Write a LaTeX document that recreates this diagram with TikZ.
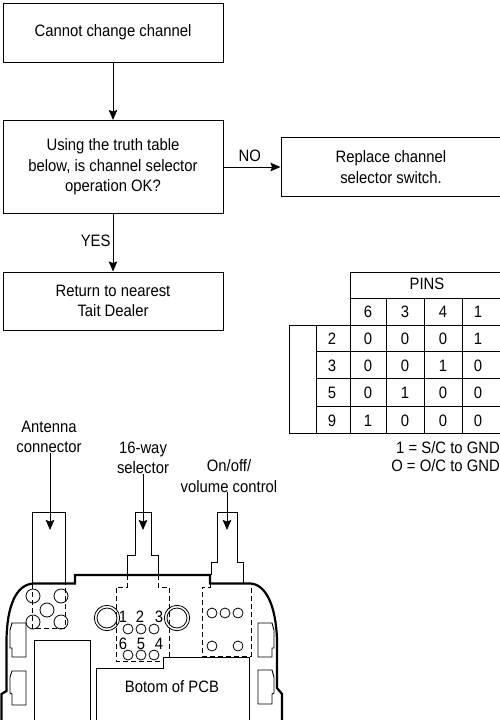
\documentclass[tikz,border=0pt]{standalone}
\usepackage{fontspec}
\setmainfont[FakeStretch=0.9]{Liberation Sans}
\usetikzlibrary{positioning,arrows.meta}
\tikzset{
  flowbox/.style={draw,line width=1pt,inner sep=0pt,align=center,font=\fontsize{16.5}{20.7}\selectfont},
  flowarrow/.style={line width=1pt,-{Stealth[length=10pt,width=8.5pt,inset=1.5pt]}},
  lbl/.style={font=\fontsize{16.5}{20.3}\selectfont,inner sep=0pt,align=center},
  pinlbl/.style={font=\fontsize{16.5}{20}\selectfont,inner sep=0pt},
  hole/.style={line width=0.8pt},
  hidden/.style={line width=0.9pt,dash pattern=on 5pt off 3pt},
  thin line/.style={line width=0.9pt},
}
\begin{document}
\begin{tikzpicture}[x=1pt,y=-1pt]
\useasboundingbox (0,0) rectangle (500,720);
% flow chart
\node[flowbox,minimum width=220pt,minimum height=59pt] (start) at (113,32.5) {Cannot change channel};
\node[flowbox,minimum width=220pt,minimum height=93pt] (check) at (113,167) {Using the truth table\\below, is channel selector\\operation OK?};
\node[flowbox,minimum width=220pt,minimum height=59pt] (replace) at (391,167) {Replace channel\\selector switch.};
\node[flowbox,minimum width=220pt,minimum height=58pt] (dealer) at (113,301) {Return to nearest\\Tait Dealer};
\draw[flowarrow] (start) -- (check);
\draw[flowarrow] (check) -- (replace) node[lbl,pos=0.46,above=5pt] (no) {NO};
\draw[flowarrow] (check) -- (dealer) node[lbl,pos=0.47,left=2pt] (yes) {YES};
% truth table
\draw[thin line] (350,272) rectangle (500,325);
\draw[thin line] (350,298) -- (500,298);
\draw[thin line] (289,325) rectangle (500,433);
\foreach \x in {316,350,386,424,462} \draw[thin line] (\x,325) -- (\x,433);
\foreach \x in {386,424,462} \draw[thin line] (\x,298) -- (\x,325);
\foreach \y in {351,378,406} \draw[thin line] (316,\y) -- (500,\y);
\node[lbl] (pins) at (427,284) {PINS};
\foreach \x/\t in {368/6,405/3,443/4,478/1} \node[lbl] (head\t) at (\x,312) {\t};
\foreach \y/\r/\a/\b/\c/\d in {339/2/0/0/0/1,366/3/0/0/1/0,393/5/0/1/0/0,421/9/1/0/0/0}{
  \node[lbl] (row\r) at (332,\y) {\r};
  \node[lbl] (cella\r) at (368,\y) {\a};
  \node[lbl] (cellb\r) at (405,\y) {\b};
  \node[lbl] (cellc\r) at (443,\y) {\c};
  \node[lbl] (celld\r) at (478,\y) {\d};
}
\node[lbl,anchor=east] (keya) at (500,448) {1 = S/C to GND};
\node[lbl,anchor=east] (keyb) at (500,466) {O = O/C to GND};
% labels over the board
\node[lbl] (antenna) at (49,437) {Antenna\\connector};
\node[lbl] (selector) at (143,458) {16-way\\selector};
\node[lbl] (volume) at (229,476) {On/off/\\volume control};
\coordinate (antennatip) at (50,530);
\coordinate (selectortip) at (143,530);
\coordinate (volumetip) at (227,530);
\draw[flowarrow] (antenna.south -| antennatip) -- (antennatip);
\draw[flowarrow] (selector.south -| selectortip) -- (selectortip);
\draw[flowarrow] (volume.south -| volumetip) -- (volumetip);
% connectors on the top edge
\draw[thin line] (32,584) -- (32,512) -- (65,512) -- (65,584);
\draw[thin line] (127,575) -- (127,555) -- (135,555) -- (135,512) -- (151,512) -- (151,555) -- (158,555) -- (158,575);
\draw[thin line] (211,575) -- (211,562) -- (217,562) -- (217,512) -- (237,512) -- (237,562) -- (243,562) -- (243,584);
% board outline
\draw[line width=2.2pt] (1.5,720) -- (1.5,694) -- (6.5,691) -- (6.5,640) .. controls (7,606) and (16,584) .. (34,583.5) -- (75,583.5) -- (75,575) -- (210,575) -- (210,583.5) -- (250,583.5) .. controls (266,584) and (276,606) .. (277,640) -- (277,688) -- (282,694) -- (282,720);
% dashed areas
\draw[hidden] (32,584) -- (32,628) -- (65,628) -- (65,584);
\draw[hidden] (127,575) -- (127,587) -- (116,587) -- (116,661) -- (163,661);
\draw[hidden] (158,575) -- (158,587) -- (169,587) -- (169,657);
\draw[hidden] (210,584) -- (210,587) -- (202,587) -- (202,656) -- (251,656) -- (251,584);
% holes
\foreach \x/\y in {33/596,61/596,47/610,33/622,61/622} \draw[hole] (\x,\y) circle (7pt);
\foreach \x in {128,141,154} \draw[hole] (\x,629) circle (5pt);
\foreach \x in {128,141,154} \draw[hole] (\x,655) circle (5pt);
\foreach \x in {212,225,238} \draw[hole] (\x,613) circle (5pt);
\foreach \x in {212,238} \draw[hole] (\x,646) circle (5pt);
\draw[hole] (107,618) circle (12.7pt) (107,618) circle (10pt);
\draw[hole] (177,618) circle (12.7pt) (177,618) circle (10pt);
\foreach \x/\y/\t in {123/617/1,140/617/2,159/617/3,123/644/6,141/644/5,159/644/4} \node[pinlbl] (pin\t) at (\x,\y) {\t};
% side clips
\draw[thin line] (26,623) -- (12,623) -- (10,630) -- (10,648) -- (12,648) -- (12,657) -- (26,657) -- cycle;
\draw[thin line] (26,671) -- (12,671) -- (10,677) -- (10,693) -- (12,694) -- (12,705) -- (26,705) -- cycle;
\draw[thin line] (258,623) -- (272,623) -- (274,630) -- (274,648) -- (272,648) -- (272,657) -- (258,657) -- cycle;
\draw[thin line] (258,670) -- (272,670) -- (274,677) -- (274,693) -- (272,694) -- (272,704) -- (258,704) -- cycle;
% inner board cut-outs
\draw[thin line] (34,720) -- (34,640) -- (90,640) -- (90,720);
\draw[thin line] (96,720) -- (96,668) -- (163,668) -- (163,657) -- (249,657) -- (249,720);
\node[lbl] (bottom) at (172,687) {Botom of PCB};
\end{tikzpicture}
\end{document}
